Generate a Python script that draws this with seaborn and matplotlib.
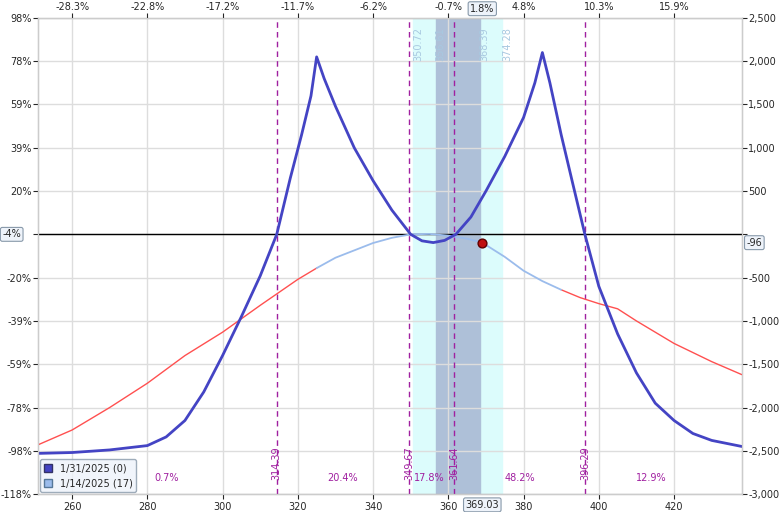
import matplotlib.pyplot as plt
import seaborn as sns
import pandas as pd
from matplotlib.patches import Patch

# expiration P/L (1/31/2025)
exp_price = [251, 260, 270, 280, 285, 290, 295, 300, 305, 310, 314.4, 318, 321, 323.5, 325, 327, 330, 335, 340, 345,
             350, 353, 356, 359, 362, 366, 370, 375, 380, 383, 385, 387, 390, 393, 396.3, 400, 405, 410, 415, 420,
             425, 430, 438]
exp_pl = [-2530, -2520, -2490, -2440, -2340, -2150, -1820, -1400, -950, -480, 0, 650, 1150, 1600, 2050, 1800, 1480,
          1000, 620, 280, 0, -75, -95, -70, 0, 200, 500, 900, 1350, 1750, 2100, 1750, 1150, 600, 0, -600, -1150,
          -1600, -1950, -2150, -2300, -2380, -2450]
# T+0 P/L (1/14/2025)
t0_price = [251, 260, 270, 280, 290, 300, 310, 320, 325, 330, 340, 345, 350, 355, 360, 365, 369.03, 375, 380, 385,
            390, 395, 400, 405, 410, 420, 430, 438]
t0_pl = [-2430, -2260, -2000, -1720, -1400, -1130, -820, -520, -390, -270, -100, -40, 0, 5, -15, -50, -96, -260,
         -420, -540, -640, -730, -800, -860, -1000, -1260, -1470, -1620]
be_lines = [314.39, 349.67, 361.64, 396.29]
band_outer = (350.72, 374.28)
band_inner = (356.61, 368.39)
prob_labels = ['0.7%', '20.4%', '17.8%', '48.2%', '12.9%']
prob_x = [285, 332, 355, 379, 414]
x_ticks = [260, 280, 300, 320, 340, 360, 380, 400, 420]
top_labels = ['-28.3%', '-22.8%', '-17.2%', '-11.7%', '-6.2%', '-0.7%', '4.8%', '10.3%', '15.9%']
y_ticks = [2500, 2000, 1500, 1000, 500, 0, -500, -1000, -1500, -2000, -2500, -3000]
left_labels = ['98%', '78%', '59%', '39%', '20%', '', '-20%', '-39%', '-59%', '-78%', '-98%', '-118%']
spot, spot_pl = 369.03, -96

FS = 7
sns.set_style('whitegrid')
fig = plt.figure(figsize=(7.8, 5.12), dpi=100)
L, B, W, H = 0.049, 0.035, 0.902, 0.93
ax = fig.add_axes([L, B, W, H])
X0, X1, Y0, Y1 = 251, 438, -3000, 2500
ax.set_xlim(X0, X1)
ax.set_ylim(Y0, Y1)

ax.axvspan(*band_outer, color='#dcfcfc', zorder=0)
ax.axvspan(*band_inner, color='#aec0d8', zorder=0)
for v in be_lines:
    ax.axvline(v, color='#a020a0', ls=(0, (4, 3)), lw=1, zorder=2)
    ax.text(v, -2640, f'{v:.2f}', rotation=90, color='#a020a0', fontsize=FS, ha='center', va='center')
for v in list(band_outer) + list(band_inner):
    ax.text(v + 1.3, 2200, f'{v:.2f}', rotation=90, color='#a8c8e0', fontsize=FS, ha='center', va='center')
for px, lab in zip(prob_x, prob_labels):
    ax.text(px, -2820, lab, color='#a020a0', fontsize=FS, ha='center', va='center')

ax.axhline(0, color='black', lw=1, zorder=2)

t0 = pd.DataFrame({'price': t0_price, 'pl': t0_pl})
sns.lineplot(data=t0[t0.price <= 325], x='price', y='pl', color='#ff5050', lw=1, ax=ax)
sns.lineplot(data=t0[t0.price >= 390], x='price', y='pl', color='#ff5050', lw=1, ax=ax)
sns.lineplot(data=t0[(t0.price >= 325) & (t0.price <= 390)], x='price', y='pl', color='#9bbcec', lw=1.3, ax=ax)
exp = pd.DataFrame({'price': exp_price, 'pl': exp_pl})
sns.lineplot(data=exp, x='price', y='pl', color='#4444c4', lw=2, ax=ax)
ax.scatter([spot], [spot_pl], s=40, color='#c01010', edgecolor='#600000', zorder=5)

ax.set_xticks(x_ticks)
ax.set_yticks(y_ticks)
ax.set_yticklabels(left_labels, fontsize=FS)
ax.tick_params(axis='x', labelsize=FS, pad=2)
ax.tick_params(axis='y', pad=1)
ax.set_xlabel('')
ax.set_ylabel('')
ax.grid(color='#dddddd', lw=1)
for s in ax.spines.values():
    s.set_color('#666666')

ax2 = ax.twinx()
ax2.set_ylim(Y0, Y1)
ax2.set_yticks(y_ticks)
ax2.set_yticklabels([f'{v:,}' if v != 0 else '' for v in y_ticks], fontsize=FS)
ax2.tick_params(pad=1)
ax2.grid(False)

ax3 = ax.twiny()
ax3.set_xlim(X0, X1)
ax3.set_xticks(x_ticks)
ax3.set_xticklabels(top_labels, fontsize=FS)
ax3.tick_params(pad=1)
ax3.grid(False)

box = dict(boxstyle='round,pad=0.2', fc='#eef3fa', ec='#8899aa', lw=0.8)
y_zero = B + H * (0 - Y0) / (Y1 - Y0)
x_spot = L + W * (spot - X0) / (X1 - X0)
fig.text(0.003, y_zero, '-4%', fontsize=FS, va='center', bbox=box)
fig.text(L + W + 0.006, B + H * (spot_pl - Y0) / (Y1 - Y0), '-96', fontsize=FS, va='center', bbox=box)
fig.text(x_spot, 0.014, '369.03', fontsize=FS, ha='center', va='center', bbox=box)
fig.text(x_spot, 0.983, '1.8%', fontsize=FS, ha='center', va='center', bbox=box)

ax.legend(handles=[Patch(fc='#4444c4', ec='#333366', label='1/31/2025 (0)'),
                   Patch(fc='#9bbcec', ec='#557799', label='1/14/2025 (17)')],
          loc='lower left', fontsize=FS, frameon=True, facecolor='#eef3fa', edgecolor='#8899aa',
          handlelength=0.8, handleheight=0.8, borderaxespad=0.2)

plt.savefig('out.png', dpi=100)
